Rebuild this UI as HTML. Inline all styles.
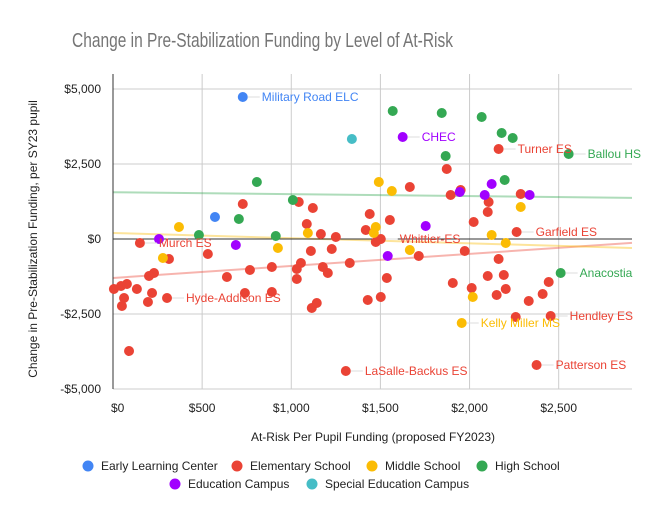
<!DOCTYPE html>
<html><head><meta charset="utf-8"><style>
html,body{margin:0;padding:0;background:#fff;}
svg text{font-family:"Liberation Sans",Arial,sans-serif;}
</style></head><body>
<svg id="chart" width="658" height="517" xmlns="http://www.w3.org/2000/svg">
<rect width="658" height="517" fill="#fff"/>
<text x="72" y="47" font-size="20" fill="#757575" textLength="381" lengthAdjust="spacingAndGlyphs">Change in Pre-Stabilization Funding by Level of At-Risk</text>
<g id="grid"></g>
<g id="trends"></g>
<g id="axes"></g>
<g id="points"></g>
<g id="labels"></g>
<text transform="translate(37,239) rotate(-90)" text-anchor="middle" font-size="12" fill="#222">Change in Pre-Stabilization Funding, per SY23 pupil</text>
<text x="373" y="441" text-anchor="middle" font-size="12" fill="#222">At-Risk Per Pupil Funding (proposed FY2023)</text>
<g id="legend"></g>
</svg>
<script>
const categories = ["Early Learning Center","Elementary School","Middle School","High School","Education Campus","Special Education Campus"];
const colors = ["#4285f4","#ea4335","#fbbc04","#34a853","#a100ff","#46bdc6"];
const xTicks = [0,500,1000,1500,2000,2500];
const xTickLabels = ["$0","$500","$1,000","$1,500","$2,000","$2,500"];
const yTicks = [5000,2500,0,-2500,-5000];
const yTickLabels = ["$5,000","$2,500","$0","-$2,500","-$5,000"];
const ecX = [728,572];
const ecY = [4733,733];
const esX = [151,728,1042,1121,1087,1166,1250,532,314,1110,1227,1054,1328,1031,891,768,639,1177,1205,1031,230,202,5,45,78,134,219,62,303,196,50,740,891,1115,1143,90,1306,2163,1872,1665,1894,1950,2107,2102,2287,1440,1553,2023,1418,1502,1474,2264,1973,1715,2163,1536,2102,2192,1906,2444,2012,2203,2152,2410,1429,1502,2332,2259,2455,2376];
const esY = [-133,1167,1233,1033,500,167,67,-500,-667,-400,-333,-800,-800,-1000,-933,-1033,-1267,-933,-1133,-1333,-1133,-1233,-1667,-1567,-1500,-1667,-1800,-1967,-1967,-2100,-2233,-1800,-1767,-2300,-2133,-3733,-4400,3000,2333,1733,1467,1633,1233,900,1500,833,633,567,300,0,-100,233,-400,-567,-667,-1300,-1233,-1200,-1467,-1433,-1633,-1667,-1867,-1833,-2033,-1933,-2067,-2600,-2567,-4200];
const msX = [370,280,925,1093,1491,1564,2287,1474,1463,2124,2203,1665,2018,1956];
const msY = [400,-633,-300,200,1900,1600,1067,400,200,133,-133,-367,-1933,-2800];
const hsX = [807,1009,706,482,913,1569,1844,2068,2180,2242,1866,2197,2556,2511];
const hsY = [1900,1300,667,133,100,4267,4200,4067,3533,3367,2767,1967,2833,-1133];
const ecampX = [258,689,1625,1945,2124,2085,2337,1754,1541];
const ecampY = [0,-200,3400,1567,1833,1467,1467,433,-567];
const secX = [1340];
const secY = [3333];
const trendStartY = [1560,-1300,200];
const trendEndY = [1370,-130,-300];
const trendCat = [3,1,2];
const labelNames = ["Military Road ELC","CHEC","Turner ES","Ballou HS","Garfield ES","Murch ES","Whittier-ES","Hyde-Addison ES","Anacostia","Hendley ES","Kelly Miller MS","Patterson ES","LaSalle-Backus ES"];
const labelX = [728,1625,2163,2556,2264,151,1502,303,2511,2455,1956,2376,1306];
const labelY = [4733,3400,3000,2833,233,-133,0,-1967,-1133,-2567,-2800,-4200,-4400];
const labelCat = [0,4,1,3,1,1,1,1,3,1,2,1,1];

const NS="http://www.w3.org/2000/svg";
const X0=113, XMAX=2900, XR=630, YT=89, YB=389;
function sx(v){return X0+v*(XR-X0)/XMAX;}
function sy(v){return YT+(5000-v)*(YB-YT)/10000;}
function mk(tag,attrs,parent){const e=document.createElementNS(NS,tag);for(const k in attrs)e.setAttribute(k,attrs[k]);parent.appendChild(e);return e;}
const grid=document.getElementById('grid'), axes=document.getElementById('axes');
xTicks.forEach((t,i)=>{
  const l=mk('line',{x1:sx(t),x2:sx(t),y1:74,y2:YB,stroke:'#ccc','stroke-width':1},grid);
  
  
  const tx=mk('text',{x:sx(t)+(i==0?-2:0),y:412,'text-anchor':i==0?'start':'middle','font-size':12,fill:'#222'},axes);
  tx.textContent=xTickLabels[i];
  
  
});
yTicks.forEach((t,i)=>{
  const l=mk('line',{x1:X0,x2:632,y1:sy(t),y2:sy(t),stroke:t===0?'#333':'#ccc','stroke-width':1},t===0?axes:grid);
  
  
  const tx=mk('text',{x:101,y:sy(t)+4,'text-anchor':'end','font-size':12,fill:'#222'},axes);
  tx.textContent=yTickLabels[i];
  
  
});
const yax=mk('line',{x1:X0,x2:X0,y1:74,y2:YB,stroke:'#333','stroke-width':1},axes);


const trends=document.getElementById('trends');
trendCat.forEach((c,i)=>{
  const l=mk('line',{x1:sx(0),x2:632,y1:sy(trendStartY[i]),y2:sy(trendEndY[i]),stroke:colors[c],'stroke-width':2,'stroke-opacity':0.4},trends);
  
  
});
const series=[[ecX,ecY],[esX,esY],[msX,msY],[hsX,hsY],[ecampX,ecampY],[secX,secY]];
const pts=document.getElementById('points');
series.forEach((s,c)=>{
  s[0].forEach((xv,i)=>{
    const p=mk('circle',{cx:sx(xv),cy:sy(s[1][i]),r:5,fill:colors[c]},pts);
    
    
  });
});
const lab=document.getElementById('labels');
labelNames.forEach((n,i)=>{
  const px=sx(labelX[i]), py=sy(labelY[i]);
  const l=mk('line',{x1:px+5,x2:px+17,y1:py,y2:py,stroke:'#ddd','stroke-width':1},lab);
  
  
  const t=mk('text',{x:px+19,y:py+4,'font-size':12,fill:colors[labelCat[i]]},lab);
  t.textContent=n;
  
  
});
const leg=document.getElementById('legend');
const legX=[88,237,372,482,175,312], legY=[466,466,466,466,484,484];
categories.forEach((c,i)=>{
  const d=mk('circle',{cx:legX[i],cy:legY[i],r:5.5,fill:colors[i]},leg);
  
  
  const t=mk('text',{x:legX[i]+13,y:legY[i]+4,'font-size':12,fill:'#222'},leg);
  t.textContent=c;
  
  
});
</script>
</body></html>
